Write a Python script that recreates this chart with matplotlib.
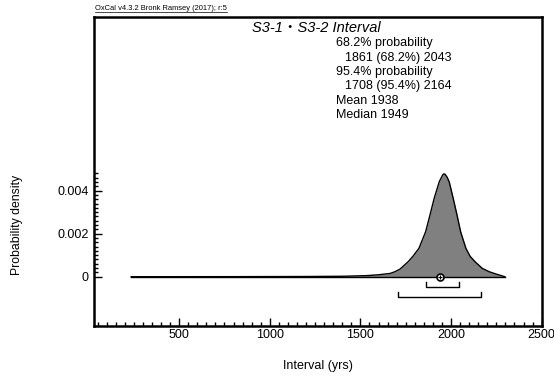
import matplotlib
matplotlib.use("Agg")
import matplotlib.pyplot as plt
from matplotlib.lines import Line2D
from matplotlib.ticker import FixedLocator, FixedFormatter

plt.rcParams['font.family'] = ['Liberation Sans', 'Noto Sans CJK JP', 'DejaVu Sans']

# posterior of the interval
interval_yrs = [235, 800, 1200, 1400, 1534, 1600, 1663, 1690, 1718, 1764, 1790, 1823,
                1860, 1884, 1907, 1935, 1945, 1955, 1961, 1967, 1978, 1990, 2012,
                2033, 2053, 2082, 2105, 2132, 2172, 2211, 2250, 2297]
density = [0, 0.000003, 0.00001, 0.00002, 0.00005, 0.00009, 0.00015, 0.00023,
           0.00035, 0.0007, 0.00095, 0.00132, 0.00209, 0.00287, 0.00364, 0.00441,
           0.00458, 0.00474, 0.00478, 0.00476, 0.00463, 0.00441, 0.00364, 0.00287,
           0.00209, 0.00132, 0.00095, 0.0007, 0.00039, 0.00023, 0.00012, 0]

range68 = (1861, 2043)
range95 = (1708, 2164)
mean_yrs = 1938
median_yrs = 1949

x_major = [500, 1000, 1500, 2000, 2500]
x_minor = list(range(50, 2501, 50))
y_major = [0, 0.002, 0.004]
y_major_labels = ['0', '0.002', '0.004']
y_minor = [i * 0.0002 for i in range(0, 25)]

title = 'S3-1・S3-2 Interval'
stats_lines = [
    ('68.2% probability', 0),
    ('1861 (68.2%) 2043', 1),
    ('95.4% probability', 0),
    ('1708 (95.4%) 2164', 1),
    ('Mean 1938', 0),
    ('Median 1949', 0),
]

W, H = 554, 379
fig = plt.figure(figsize=(W / 100, H / 100), dpi=100)
ax = fig.add_axes([94 / W, 1 - 326 / H, (542 - 94) / W, (326 - 16.5) / H])

ax.fill_between(interval_yrs, density, 0, color='#808080', lw=0)
ax.plot(interval_yrs, density, color='black', lw=1.0)
ax.plot([interval_yrs[0], interval_yrs[-1]], [0, 0], color='black', lw=1.0)

# range brackets
def bracket(lo, hi, y, h):
    ax.plot([lo, lo, hi, hi], [y + h, y, y, y + h], color='black', lw=1.0)

bracket(range68[0], range68[1], -0.00048, 0.00022)
bracket(range95[0], range95[1], -0.00095, 0.00022)

ax.plot([mean_yrs], [0], marker='o', ms=5, mfc='white', mec='black', mew=1.2)
ax.plot([mean_yrs], [0], marker='+', ms=3, color='black', mew=0.8)

ax.set_xlim(30, 2502)
ax.set_ylim(-0.00229, 0.01209)

ax.xaxis.set_major_locator(FixedLocator(x_major))
ax.xaxis.set_minor_locator(FixedLocator(x_minor))
ax.yaxis.set_major_locator(FixedLocator(y_major))
ax.yaxis.set_major_formatter(FixedFormatter(y_major_labels))
ax.yaxis.set_minor_locator(FixedLocator(y_minor))

ax.tick_params(which='both', direction='in', top=False, right=False, labelsize=9, width=1)
ax.tick_params(which='major', length=5.5)
ax.tick_params(which='minor', length=3)
ax.tick_params(axis='x', pad=2)
ax.tick_params(axis='y', pad=4)
for s in ax.spines.values():
    s.set_linewidth(1.8)

fig.text(318 / W, 1 - 366 / H, 'Interval (yrs)', ha='center', va='center', fontsize=9)
fig.text(17 / W, 1 - 225 / H, 'Probability density', ha='center', va='center',
         rotation=90, fontsize=8.8)

fig.text(316.5 / W, 1 - 28 / H, title, ha='center', va='center', fontsize=10.5,
         style='italic')
for i, (txt, indent) in enumerate(stats_lines):
    fig.text((336 + 9 * indent) / W, 1 - (43.3 + 14.4 * i) / H, txt,
             ha='left', va='center', fontsize=9)

hdr = fig.text(95 / W, 1 - 11.8 / H, 'OxCal v4.3.2 Bronk Ramsey (2017); r:5',
               ha='left', va='bottom', fontsize=5.4)
fig.canvas.draw()
bb = hdr.get_window_extent().transformed(fig.transFigure.inverted())
fig.add_artist(Line2D([bb.x0, bb.x1], [1 - 12.3 / H, 1 - 12.3 / H],
                      transform=fig.transFigure, color='black', lw=0.5))

fig.savefig('out.png', dpi=100)
